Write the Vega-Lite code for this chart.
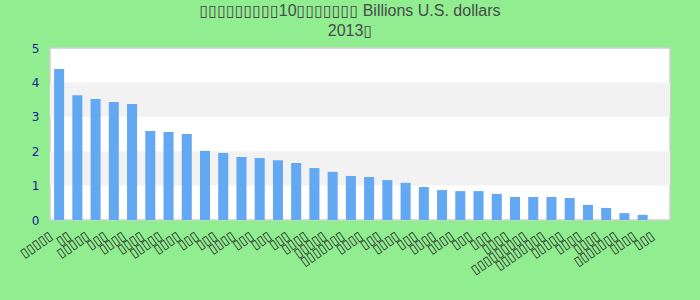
{
  "$schema": "https://vega.github.io/schema/vega-lite/v6.json",
  "width": 620,
  "height": 172,
  "autosize": {"type": "none"},
  "padding": {"left": 50, "top": 48, "right": 30, "bottom": 80},
  "background": "#90EE90",
  "title": {
    "text": ["▯▯▯▯▯▯▯▯▯10▯▯▯▯▯▯▯ Billions U.S. dollars", "2013▯"],
    "font": "Liberation Sans, DejaVu Sans",
    "fontSize": 16,
    "fontWeight": "normal",
    "color": "#4a4a4a",
    "lineHeight": 20,
    "offset": 3,
    "dx": -10
  },
  "config": {
    "view": {"fill": "white", "stroke": "#d0d0d0", "strokeWidth": 1.5},
    "axisY": {
      "title": null,
      "values": [0, 1, 2, 3, 4, 5],
      "grid": false,
      "domain": false,
      "ticks": false,
      "labelPadding": 11,
      "labelFont": "DejaVu Sans",
      "labelFontSize": 12,
      "labelColor": "#1a1a96"
    }
  },
  "layer": [
    {
      "data": {"values": [{"from": 1, "to": 2}, {"from": 3, "to": 4}]},
      "mark": {"type": "rect", "color": "#f2f2f2"},
      "encoding": {
        "y": {"field": "from", "type": "quantitative", "scale": {"domain": [0, 5], "nice": false}, "title": null},
        "y2": {"field": "to"}
      }
    },
    {
      "data": {"values": [
        {"rank": 1, "label": "▯▯▯▯▯", "value": 4.39},
        {"rank": 2, "label": "▯▯", "value": 3.63},
        {"rank": 3, "label": "▯▯▯▯▯", "value": 3.52},
        {"rank": 4, "label": "▯▯▯", "value": 3.43},
        {"rank": 5, "label": "▯▯▯▯", "value": 3.37},
        {"rank": 6, "label": "▯▯▯▯", "value": 2.59},
        {"rank": 7, "label": "▯▯▯▯▯", "value": 2.56},
        {"rank": 8, "label": "▯▯▯▯", "value": 2.5},
        {"rank": 9, "label": "▯▯▯", "value": 2.01},
        {"rank": 10, "label": "▯▯▯", "value": 1.95},
        {"rank": 11, "label": "▯▯▯▯", "value": 1.83},
        {"rank": 12, "label": "▯▯▯", "value": 1.8},
        {"rank": 13, "label": "▯▯▯", "value": 1.74},
        {"rank": 14, "label": "▯▯▯", "value": 1.66},
        {"rank": 15, "label": "▯▯▯▯", "value": 1.51},
        {"rank": 16, "label": "▯▯▯▯▯", "value": 1.4},
        {"rank": 17, "label": "▯▯▯▯▯▯▯", "value": 1.28},
        {"rank": 18, "label": "▯▯▯▯", "value": 1.25},
        {"rank": 19, "label": "▯▯▯", "value": 1.16},
        {"rank": 20, "label": "▯▯▯▯", "value": 1.08},
        {"rank": 21, "label": "▯▯▯", "value": 0.96},
        {"rank": 22, "label": "▯▯▯▯", "value": 0.87},
        {"rank": 23, "label": "▯▯▯▯", "value": 0.84},
        {"rank": 24, "label": "▯▯▯", "value": 0.84},
        {"rank": 25, "label": "▯▯▯", "value": 0.76},
        {"rank": 26, "label": "▯▯▯▯", "value": 0.67},
        {"rank": 27, "label": "▯▯▯▯▯▯▯▯▯", "value": 0.67},
        {"rank": 28, "label": "▯▯▯▯▯▯▯▯", "value": 0.67},
        {"rank": 29, "label": "▯▯▯▯▯", "value": 0.64},
        {"rank": 30, "label": "▯▯▯▯", "value": 0.44},
        {"rank": 31, "label": "▯▯▯▯", "value": 0.35},
        {"rank": 32, "label": "▯▯▯▯▯▯▯", "value": 0.2},
        {"rank": 33, "label": "▯▯▯▯", "value": 0.15},
        {"rank": 34, "label": "▯▯▯", "value": 0}
      ]},
      "mark": {"type": "bar", "color": "#62a8f3"},
      "encoding": {
        "x": {
          "field": "rank",
          "type": "ordinal",
          "scale": {"paddingInner": 0.45, "paddingOuter": 0.225},
          "axis": {
            "title": null,
            "domain": false,
            "ticks": false,
            "labelAngle": -35,
            "labelAlign": "right",
            "labelBaseline": "middle",
            "labelPadding": 14,
            "labelOffset": -8,
            "labelFont": "DejaVu Sans",
            "labelFontSize": 13,
            "labelColor": "#222222",
            "labelOverlap": false,
            "labelExpr": "['▯▯▯▯▯','▯▯','▯▯▯▯▯','▯▯▯','▯▯▯▯','▯▯▯▯','▯▯▯▯▯','▯▯▯▯','▯▯▯','▯▯▯','▯▯▯▯','▯▯▯','▯▯▯','▯▯▯','▯▯▯▯','▯▯▯▯▯','▯▯▯▯▯▯▯','▯▯▯▯','▯▯▯','▯▯▯▯','▯▯▯','▯▯▯▯','▯▯▯▯','▯▯▯','▯▯▯','▯▯▯▯','▯▯▯▯▯▯▯▯▯','▯▯▯▯▯▯▯▯','▯▯▯▯▯','▯▯▯▯','▯▯▯▯','▯▯▯▯▯▯▯','▯▯▯▯','▯▯▯'][datum.value - 1]"
          }
        },
        "y": {
          "field": "value",
          "type": "quantitative",
          "scale": {"domain": [0, 5], "nice": false},
          "title": null
        }
      }
    }
  ]
}
